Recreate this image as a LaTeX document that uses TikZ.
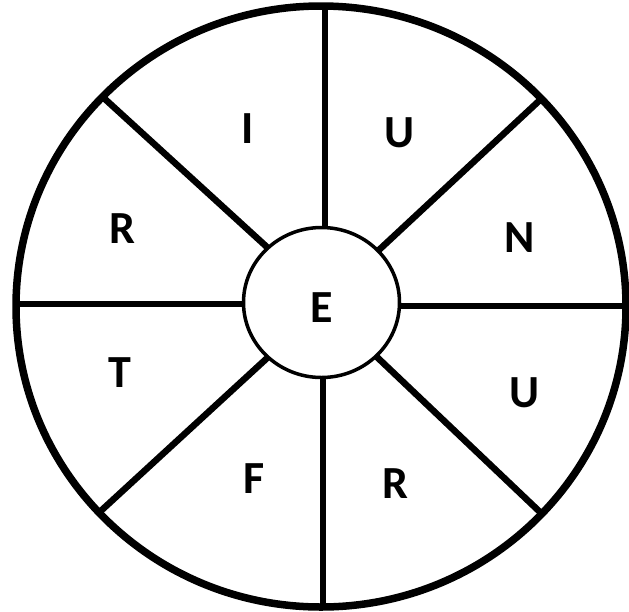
\documentclass[tikz,border=0pt]{standalone}
\usepackage{fontspec}
\setmainfont{Carlito}
\usetikzlibrary{calc}
\begin{document}
\begin{tikzpicture}[x=1pt,y=-1pt,
  lbl/.style={font=\bfseries\fontsize{46}{46}\selectfont, inner sep=0pt},
  spoke/.style={line width=6.5pt},
  rim/.style={line width=7.5pt},
  hub/.style={line width=3.5pt, fill=white}]
\useasboundingbox (0,0) rectangle (629,611);
\fill[white] (0,0) rectangle (629,611);
\coordinate (C) at (321,306.5);
\coordinate (H) at (321.5,302.5);
% spoke points: inner (i) and outer (o)
\coordinate (i1) at (325,228); \coordinate (o1) at (325,8);
\coordinate (i2) at (380,249); \coordinate (o2) at (540,100);
\coordinate (i3) at (400,306); \coordinate (o3) at (626,306);
\coordinate (i4) at (379,359); \coordinate (o4) at (541,513);
\coordinate (i5) at (323,380); \coordinate (o5) at (323,606);
\coordinate (i6) at (265,360); \coordinate (o6) at (104,508);
\coordinate (i7) at (244,304); \coordinate (o7) at (17,304);
\coordinate (i8) at (268,248); \coordinate (o8) at (106,100);
\begin{scope}
  \clip (C) ellipse [x radius=305, y radius=300.5];
  \foreach \k in {1,...,8}{
    \draw[spoke] ($(i\k)!-0.3!(o\k)$) -- ($(o\k)!-0.1!(i\k)$);
  }
\end{scope}
\draw[rim] (C) ellipse [x radius=305, y radius=300.5];
\draw[hub] (H) ellipse [x radius=78, y radius=75];
\node[lbl] (lE) at (322,308) {E};
\node[lbl] (lI) at (248,129) {I};
\node[lbl] (lU1) at (400,133) {U};
\node[lbl] (lR1) at (122,229) {R};
\node[lbl] (lN) at (520,238) {N};
\node[lbl] (lT) at (120,373) {T};
\node[lbl] (lU2) at (525,393) {U};
\node[lbl] (lF) at (254,479) {F};
\node[lbl] (lR2) at (395,484) {R};
\end{tikzpicture}
\end{document}
